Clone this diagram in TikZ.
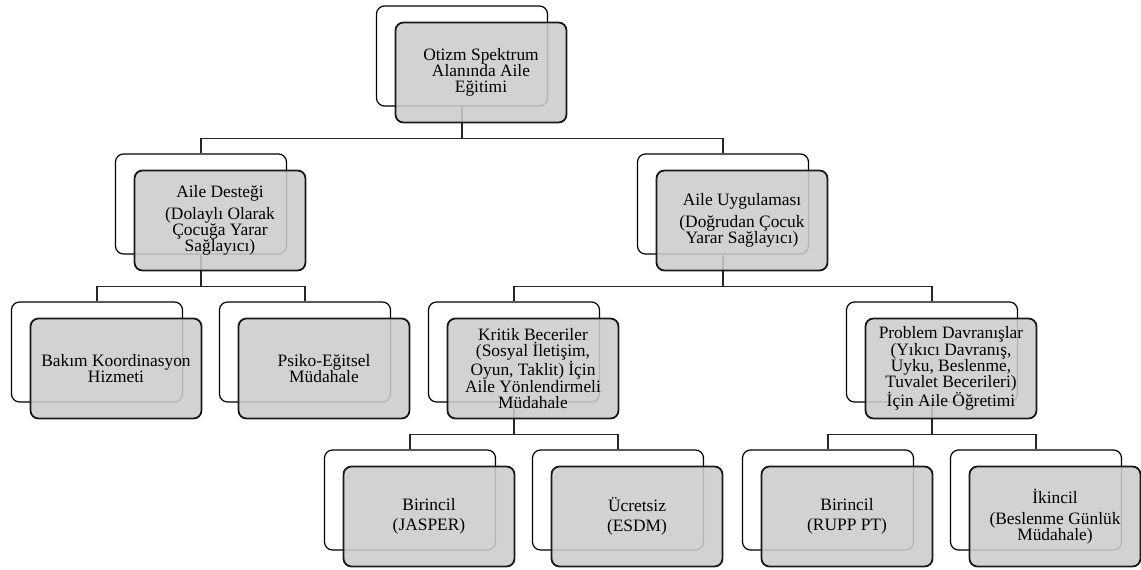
\documentclass[tikz,border=0pt]{standalone}
\usepackage{fontspec}
\setmainfont{Liberation Serif}
\usetikzlibrary{positioning}
\tikzstyle{backcard} = [rectangle, rounded corners=8pt, minimum width=171pt, minimum height=100pt, inner sep=0pt, draw=black, line width=1.2pt, fill=white]
\tikzstyle{frontcard} = [rectangle, rounded corners=8pt, minimum width=171pt, minimum height=100pt, inner sep=0pt, draw=black!90, line width=1.8pt, fill=black!20, fill opacity=0.88, text opacity=1, text centered, align=center, font=\fontsize{17.4}{16.2}\selectfont]
\tikzstyle{link} = [line width=1.3pt, draw=black!85]

\begin{document}
\begin{tikzpicture}[node distance=148pt]
        \useasboundingbox (0,0) rectangle (1141pt,-570pt);
        % back cards
        \node (root) [backcard] at (462pt,-56pt) {};
        \node (famSupport) [backcard, below of=root, xshift=-261pt] {};
        \node (famPractice) [backcard, below of=root, xshift=261pt] {};
        \node (careCoord) [backcard, below of=famSupport, xshift=-104pt] {};
        \node (psychoEdu) [backcard, below of=famSupport, xshift=104pt] {};
        \node (critSkills) [backcard, below of=famPractice, xshift=-209pt] {};
        \node (probBehav) [backcard, below of=famPractice, xshift=209pt] {};
        \node (jasper) [backcard, below of=critSkills, xshift=-104pt] {};
        \node (esdm) [backcard, below of=critSkills, xshift=104pt] {};
        \node (ruppPT) [backcard, below of=probBehav, xshift=-104pt] {};
        \node (feeding) [backcard, below of=probBehav, xshift=104pt] {};

        % connectors
        \draw [link] (root.south) -- ++(0,-32pt) -| (famSupport.north);
        \draw [link] (root.south) -- ++(0,-32pt) -| (famPractice.north);
        \draw [link] (famSupport.south) -- ++(0,-32pt) -| (careCoord.north);
        \draw [link] (famSupport.south) -- ++(0,-32pt) -| (psychoEdu.north);
        \draw [link] (famPractice.south) -- ++(0,-32pt) -| (critSkills.north);
        \draw [link] (famPractice.south) -- ++(0,-32pt) -| (probBehav.north);
        \draw [link] (critSkills.south) -- ++(0,-32pt) -| (jasper.north);
        \draw [link] (critSkills.south) -- ++(0,-32pt) -| (esdm.north);
        \draw [link] (probBehav.south) -- ++(0,-32pt) -| (ruppPT.north);
        \draw [link] (probBehav.south) -- ++(0,-32pt) -| (feeding.north);

        % front cards
        \node (rootTxt) [frontcard, xshift=19pt, yshift=-16.5pt] at (root) {Otizm Spektrum\\Alanında Aile\\Eğitimi};
        \node (famSupportTxt) [frontcard, xshift=19pt, yshift=-16.5pt] at (famSupport) {Aile Desteği\\[5pt](Dolaylı Olarak\\Çocuğa Yarar\\Sağlayıcı)};
        \node (famPracticeTxt) [frontcard, xshift=19pt, yshift=-16.5pt] at (famPractice) {Aile Uygulaması\\[6pt](Doğrudan Çocuk\\Yarar Sağlayıcı)};
        \node (careCoordTxt) [frontcard, xshift=19pt, yshift=-16.5pt] at (careCoord) {Bakım Koordinasyon\\Hizmeti};
        \node (psychoEduTxt) [frontcard, xshift=19pt, yshift=-16.5pt] at (psychoEdu) {Psiko-Eğitsel\\Müdahale};
        \node (critSkillsTxt) [frontcard, xshift=19pt, yshift=-16.5pt] at (critSkills) {Kritik Beceriler\\(Sosyal İletişim,\\Oyun, Taklit) İçin\\Aile Yönlendirmeli\\Müdahale};
        \node (probBehavTxt) [frontcard, xshift=19pt, yshift=-16.5pt] at (probBehav) {Problem Davranışlar\\(Yıkıcı Davranış,\\Uyku, Beslenme,\\Tuvalet Becerileri)\\İçin Aile Öğretimi};
        \node (jasperTxt) [frontcard, xshift=19pt, yshift=-16.5pt] at (jasper) {Birincil\\[4pt](JASPER)};
        \node (esdmTxt) [frontcard, xshift=19pt, yshift=-16.5pt] at (esdm) {Ücretsiz\\[4pt](ESDM)};
        \node (ruppPTTxt) [frontcard, xshift=19pt, yshift=-16.5pt] at (ruppPT) {Birincil\\[4pt](RUPP PT)};
        \node (feedingTxt) [frontcard, xshift=19pt, yshift=-16.5pt] at (feeding) {İkincil\\[5pt](Beslenme Günlük\\Müdahale)};
    \end{tikzpicture}
\end{document}
